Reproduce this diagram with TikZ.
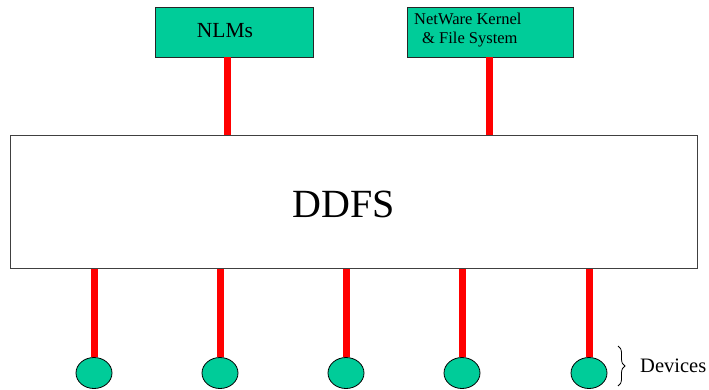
\documentclass[tikz,border=0pt]{standalone}
\usepackage{fontspec}
\setmainfont{Liberation Serif}
\usetikzlibrary{decorations.pathreplacing,shapes.geometric}
\definecolor{boxgreen}{HTML}{00CC99}
\begin{document}
\begin{tikzpicture}[x=1pt,y=-1pt,
  greenbox/.style={draw=black!85,fill=boxgreen,line width=0.9pt,minimum height=50pt,inner sep=0pt},
  bigbox/.style={draw=black!75,fill=white,line width=1pt,minimum width=687pt,minimum height=133pt,inner sep=0pt},
  device/.style={ellipse,draw=black,fill=boxgreen,line width=0.8pt,minimum width=36pt,minimum height=31pt,inner sep=0pt},
  link/.style={draw=red,line width=7pt}]
\useasboundingbox (0,0) rectangle (709,389);
\node[greenbox,minimum width=158pt] (nlm) at (234,32) {};
\node[font=\fontsize{21.5}{23}\selectfont] (nlmt) at (225,31) {NLMs};
\node[greenbox,minimum width=166pt] (nw) at (490,32) {};
\node[font=\fontsize{16.5}{18.5}\selectfont,align=left,anchor=north west,inner sep=0pt] (nwt) at (414,13) {NetWare Kernel\\\hspace*{8pt}\& File System};
\node[bigbox] (ddfs) at (353.5,202) {};
\node[font=\fontsize{40}{44}\selectfont] (ddfst) at (344,204) {DDFS};
\draw[link] (nlm.south -| 227,0) -- (ddfs.north -| 227,0);
\draw[link] (nw.south -| 489,0) -- (ddfs.north -| 489,0);
\foreach \i/\x in {1/94,2/220,3/346,4/462,5/589}{
  \node[device] (d\i) at (\x,373) {};
  \draw[link] (ddfs.south -| \x,0) -- (d\i.north);
}
\coordinate (b1) at (618,346);
\coordinate (b2) at (618,386);
\draw[decorate,decoration={brace,amplitude=7pt},line width=0.8pt] (b1) -- (b2);
\node[font=\fontsize{20.5}{22}\selectfont,anchor=west,inner sep=0pt] (dev) at (640,366) {Devices};
\end{tikzpicture}
\end{document}
